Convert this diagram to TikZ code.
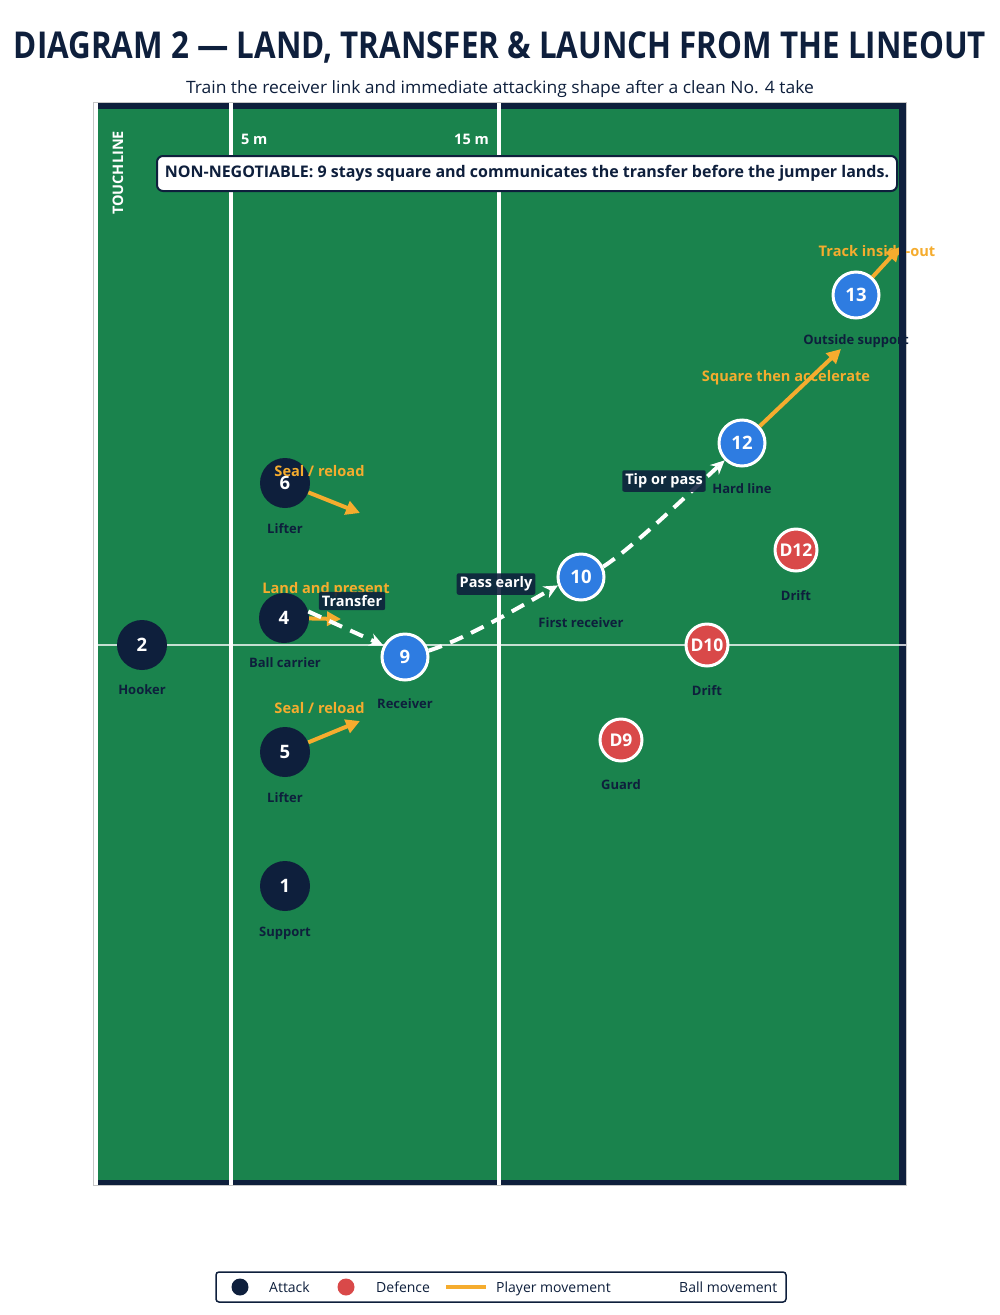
\documentclass[tikz,border=0pt]{standalone}
\usepackage{fontspec}
\setmainfont{Open Sans}
\usepackage{graphicx}
\usetikzlibrary{arrows.meta}
\definecolor{navy}{RGB}{14,31,60}
\definecolor{pitch}{RGB}{26,131,77}
\definecolor{atkblue}{RGB}{46,124,225}
\definecolor{defred}{RGB}{217,73,73}
\definecolor{orng}{RGB}{245,172,46}
\begin{document}
\begin{tikzpicture}[x=1pt,y=-1pt,
  attack/.style={circle,fill=navy,minimum size=50pt,inner sep=0pt,text=white,font=\bfseries\fontsize{18.5}{20}\selectfont},
  backs/.style={circle,fill=atkblue,draw=white,line width=3pt,minimum size=46pt,inner sep=0pt,text=white,font=\bfseries\fontsize{18.5}{20}\selectfont},
  defs/.style={circle,fill=defred,draw=white,line width=3pt,minimum size=42pt,inner sep=0pt,text=white,font=\bfseries\fontsize{17.5}{19}\selectfont},
  plabel/.style={text=navy,font=\bfseries\fontsize{13}{15}\selectfont,inner sep=0pt},
  olabel/.style={text=orng,font=\bfseries\fontsize{14.6}{16}\selectfont,inner sep=0pt},
  mv/.style={draw=orng,line width=4pt,-{Triangle[length=14pt,width=14pt]}},
  ball/.style={draw=white,line width=4pt,dash pattern=on 14pt off 9pt,-{Stealth[length=14pt,width=13pt]}},
  tag/.style={fill=navy,fill opacity=0.88,text opacity=1,text=white,font=\bfseries\fontsize{14.5}{16}\selectfont,rounded corners=2pt,inner xsep=3pt,inner ysep=3.5pt},
  fieldtxt/.style={text=white,font=\bfseries\fontsize{14.5}{16}\selectfont,inner sep=0pt},
  legtxt/.style={text=navy,font=\fontsize{14}{16}\selectfont,inner sep=0pt,anchor=base west}
]
\useasboundingbox (0,0) rectangle (1000,1315);
\fill[white] (0,0) rectangle (1000,1315);

% titles
\node[text=navy,inner sep=0pt] (title) at (500,47) {\resizebox{972pt}{\height}{\bfseries\fontsize{37}{40}\selectfont DIAGRAM 2 — LAND, TRANSFER \& LAUNCH FROM THE LINEOUT}};
\node[text=navy,inner sep=0pt] (subtitle) at (500,89) {\resizebox{628pt}{\height}{\fontsize{17}{20}\selectfont Train the receiver link and immediate attacking shape after a clean No. 4 take}};

% pitch
\fill[navy] (94,103) rectangle (906,1185);
\fill[pitch] (98,109) rectangle (899,1180);
\draw[gray!45,line width=0.8pt] (93.6,102.6) rectangle (906.2,1185.6);
\fill[white] (94,103) rectangle (98,1185);
\draw[white,opacity=0.75,line width=2pt] (98,645) -- (899,645);
\draw[white,line width=4pt] (231,103) -- (231,1185);
\draw[white,line width=4pt] (499,103) -- (499,1185);

\node[fieldtxt,rotate=90] (touch) at (118,173) {TOUCHLINE};
\node[fieldtxt,anchor=west] (fivem) at (241,139) {5 m};
\node[fieldtxt,anchor=east] (fifteenm) at (489,139) {15 m};

\node[draw=navy,line width=2pt,fill=white,rounded corners=6pt,minimum width=740pt,minimum height=35pt,inner sep=0pt,text=navy,font=\bfseries\fontsize{16}{18}\selectfont] (callout) at (527,173.5) {NON-NEGOTIABLE: 9 stays square and communicates the transfer before the jumper lands.};

% players
\node[attack] (p2) at (142,645) {2};
\node[attack] (p6) at (285,483) {6};
\node[attack] (p4) at (284,618) {4};
\node[attack] (p5) at (285,752) {5};
\node[attack] (p1) at (285,886) {1};
\node[backs] (p9) at (405,657) {9};
\node[backs] (p10) at (581,577) {10};
\node[backs] (p12) at (742,443) {12};
\node[backs] (p13) at (856,295) {13};
\node[defs] (d12) at (796,550) {D12};
\node[defs] (d10) at (707,645) {D10};
\node[defs] (d9) at (621,740) {D9};

% player movement
\coordinate (m6) at (360,513);
\coordinate (m4) at (341,619);
\coordinate (m5) at (360,721);
\coordinate (m12) at (841,349);
\coordinate (m13) at (900,247);
\draw[mv] (p6) -- (m6);
\draw[mv] (p4) -- (m4);
\draw[mv] (p5) -- (m5);
\draw[mv] (p12) -- (m12);
\draw[mv] (p13) -- (m13);

% ball movement
\draw[ball] (p4.15) -- (p9.152);
\draw[ball] (p9.15) .. controls (466,639) and (523,605) .. (p10.200);
\draw[ball] (p10.25) .. controls (632,548) and (682,500) .. (p12.225);

% labels
\node[plabel] (l2) at (142,690) {Hooker};
\node[plabel] (l6) at (285,529) {Lifter};
\node[plabel] (l4) at (285,663) {Ball carrier};
\node[plabel] (l5) at (285,798) {Lifter};
\node[plabel] (l1) at (285,933) {Support};
\node[plabel] (l9) at (405,704) {Receiver};
\node[plabel] (l10) at (581,623) {First receiver};
\node[plabel] (l12) at (742,489) {Hard line};
\node[plabel] (l13) at (856,341) {Outside support};
\node[plabel] (ld12) at (796,596) {Drift};
\node[plabel] (ld10) at (707,691) {Drift};
\node[plabel] (ld9) at (621,785) {Guard};

\node[olabel] (o6) at (319.5,471) {Seal / reload};
\node[olabel] (o4) at (326,590) {Land and present};
\node[olabel] (o5) at (319.5,708) {Seal / reload};
\node[olabel] (o12) at (786,378) {Square then accelerate};
\node[olabel] (o13) at (877,251) {Track inside-out};

\node[tag] (t1) at (352,601) {Transfer};
\node[tag] (t2) at (496,584) {Pass early};
\node[tag] (t3) at (664,481) {Tip or pass};

% right border on top
\fill[navy] (899,103) rectangle (906,1185);
\draw[white,opacity=0.75,line width=2pt] (899,645) -- (906,645);

% legend
\draw[navy,line width=1.5pt,rounded corners=3pt,fill=white] (216,1272) rectangle (786,1302);
\fill[navy] (240,1287) circle (8.5pt);
\node[legtxt] (la) at (269,1292) {Attack};
\fill[defred] (346,1287) circle (8.5pt);
\node[legtxt] (ld) at (376,1292) {Defence};
\draw[orng,line width=4pt] (446,1287) -- (486,1287);
\node[legtxt] (lp) at (496,1292) {Player movement};
\node[legtxt] (lb) at (679,1292) {Ball movement};
\end{tikzpicture}
\end{document}
